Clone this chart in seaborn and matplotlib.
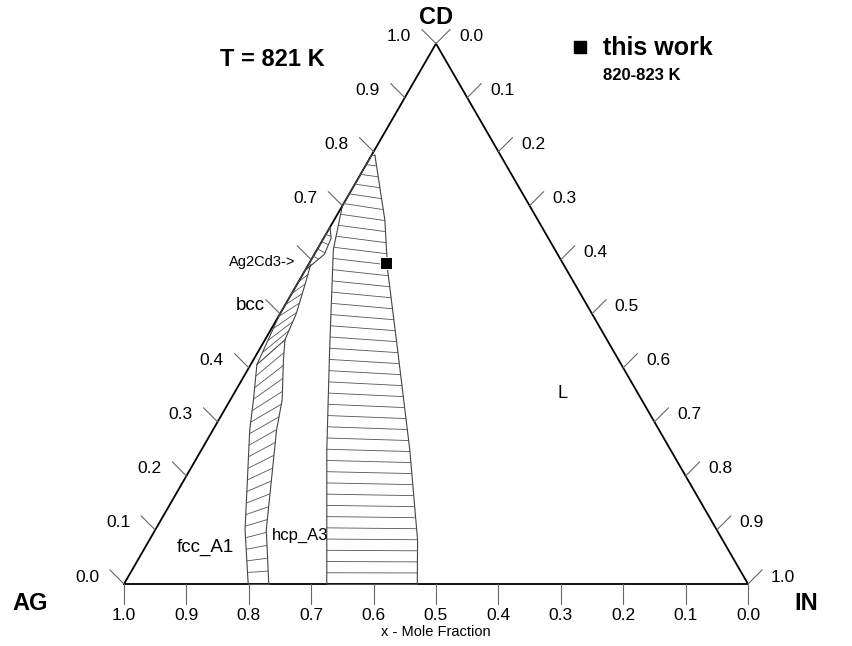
import numpy as np
import matplotlib
matplotlib.use("Agg")
import matplotlib.pyplot as plt
import seaborn as sns

# compositions as (x_IN, x_CD)
fcc_left_in = [0.199, 0.144, 0.059, 0.037, 0.010]
fcc_left_cd = [0.0, 0.100, 0.285, 0.341, 0.406]
fcc_right_in = [0.232, 0.178, 0.102, 0.083, 0.048, 0.032]
fcc_right_cd = [0.0, 0.100, 0.285, 0.341, 0.415, 0.452]

hcp_left_in = [0.325, 0.201, 0.113, 0.026, 0.0, 0.0]
hcp_left_cd = [0.0, 0.248, 0.433, 0.619, 0.700, 0.794]
hcp_right_in = [0.470, 0.430, 0.334, 0.222, 0.132, 0.081, 0.005]
hcp_right_cd = [0.0, 0.081, 0.248, 0.433, 0.581, 0.674, 0.794]

bcc_left_in = [0.010, 0.0, 0.0]
bcc_left_cd = [0.406, 0.50, 0.58]
bcc_right_in = [0.032, 0.026, 0.014, 0.004]
bcc_right_cd = [0.452, 0.500, 0.550, 0.590]

ag2cd3_left_in = [0.0, 0.0]
ag2cd3_left_cd = [0.58, 0.66]
ag2cd3_right_in = [0.0, 0.016, 0.012, 0.0]
ag2cd3_right_cd = [0.58, 0.61, 0.64, 0.66]

work_in = [0.123]
work_cd = [0.594]

ticks = [0.0, 0.1, 0.2, 0.3, 0.4, 0.5, 0.6, 0.7, 0.8, 0.9, 1.0]
hidden_left = [0.5, 0.6]
S3 = np.sqrt(3) / 2


def xy(i, c):
    i = np.asarray(i, float)
    c = np.asarray(c, float)
    return i + c / 2, c * S3


def resample(xs, ys, n):
    xs, ys = np.asarray(xs), np.asarray(ys)
    d = np.concatenate([[0], np.cumsum(np.hypot(np.diff(xs), np.diff(ys)))])
    t = np.linspace(0, d[-1], n)
    return np.interp(t, d, xs), np.interp(t, d, ys)


def region(ax, li, lc, ri, rc, n):
    lx, ly = xy(li, lc)
    rx, ry = xy(ri, rc)
    ax.plot(lx, ly, color="#444444", lw=0.8)
    ax.plot(rx, ry, color="#444444", lw=0.8)
    ax_, ay_ = resample(lx, ly, n)
    bx_, by_ = resample(rx, ry, n)
    for k in range(n):
        ax.plot([ax_[k], bx_[k]], [ay_[k], by_[k]], color="#555555", lw=0.6)


sns.set_style("white")
plt.rcParams["font.family"] = ["Liberation Sans", "DejaVu Sans"]
plt.rcParams["text.color"] = "black"
fig = plt.figure(figsize=(8.53, 6.46), dpi=100)
ax = fig.add_axes([0, 0, 1, 1])
ax.set_xlim(-124 / 624, 729 / 624)
ax.set_ylim(-62 / 624, 584 / 624)
ax.axis("off")

# triangle
ax.plot([0, 1, 0.5, 0], [0, 0, S3, 0], color="black", lw=1.3)

px = 1 / 624
L = 20 * px
for t in ticks:
    # bottom (x_AG)
    bx = 1 - t
    ax.plot([bx, bx], [0, -L], color="#666666", lw=0.8)
    ax.text(bx, -32 * px, f"{t:.1f}", ha="center", va="center", fontsize=12.5)
    # left (x_CD)
    x0, y0 = xy(0, t)
    ax.plot([x0, x0 - L * 0.707], [y0, y0 + L * 0.707], color="#666666", lw=0.8)
    if t not in hidden_left:
        ax.text(x0 - 37 * px, y0 + 7 * px, f"{t:.1f}", ha="center", va="center", fontsize=12.5)
    # right (x_IN)
    x1, y1 = xy(t, 1 - t)
    ax.plot([x1, x1 + L * 0.707], [y1, y1 + L * 0.707], color="#666666", lw=0.8)
    ax.text(x1 + 35 * px, y1 + 7 * px, f"{t:.1f}", ha="center", va="center", fontsize=12.5)

region(ax, fcc_left_in, fcc_left_cd, fcc_right_in, fcc_right_cd, 20)
region(ax, hcp_left_in, hcp_left_cd, hcp_right_in, hcp_right_cd, 40)
region(ax, bcc_left_in, bcc_left_cd, bcc_right_in, bcc_right_cd, 9)
region(ax, ag2cd3_left_in, ag2cd3_left_cd, ag2cd3_right_in, ag2cd3_right_cd, 7)

wx, wy = xy(work_in, work_cd)
sns.scatterplot(x=wx, y=wy, marker="s", s=80, color="black", ax=ax, zorder=5)
ax.scatter([(580 - 124) * px], [(584 - 47) * px], marker="s", s=80, color="black")


def at(X, Y):
    return (X - 124) * px, (584 - Y) * px


ax.text(*at(30, 603), "AG", fontsize=17, fontweight="bold", ha="center", va="center")
ax.text(*at(806, 603), "IN", fontsize=17, fontweight="bold", ha="center", va="center")
ax.text(*at(436, 18), "CD", fontsize=17, fontweight="bold", ha="center", va="center")
ax.text(*at(272, 60), "T = 821 K", fontsize=17, fontweight="bold", ha="center", va="center")
ax.text(*at(603, 48), "this work", fontsize=18, fontweight="bold", ha="left", va="center")
ax.text(*at(603, 76), "820-823 K", fontsize=12, fontweight="bold", ha="left", va="center")
ax.text(*at(436, 632), "x - Mole Fraction", fontsize=10.5, ha="center", va="center")
ax.text(*at(563, 393), "L", fontsize=13, ha="center", va="center")
ax.text(*at(205, 547), "fcc_A1", fontsize=13.5, ha="center", va="center")
ax.text(*at(300, 535), "hcp_A3", fontsize=12, ha="center", va="center")
ax.text(*at(250, 305), "bcc", fontsize=13.5, ha="center", va="center")
ax.text(*at(262, 262), "Ag2Cd3->", fontsize=10.5, ha="center", va="center")

fig.savefig("out.png", dpi=100)
